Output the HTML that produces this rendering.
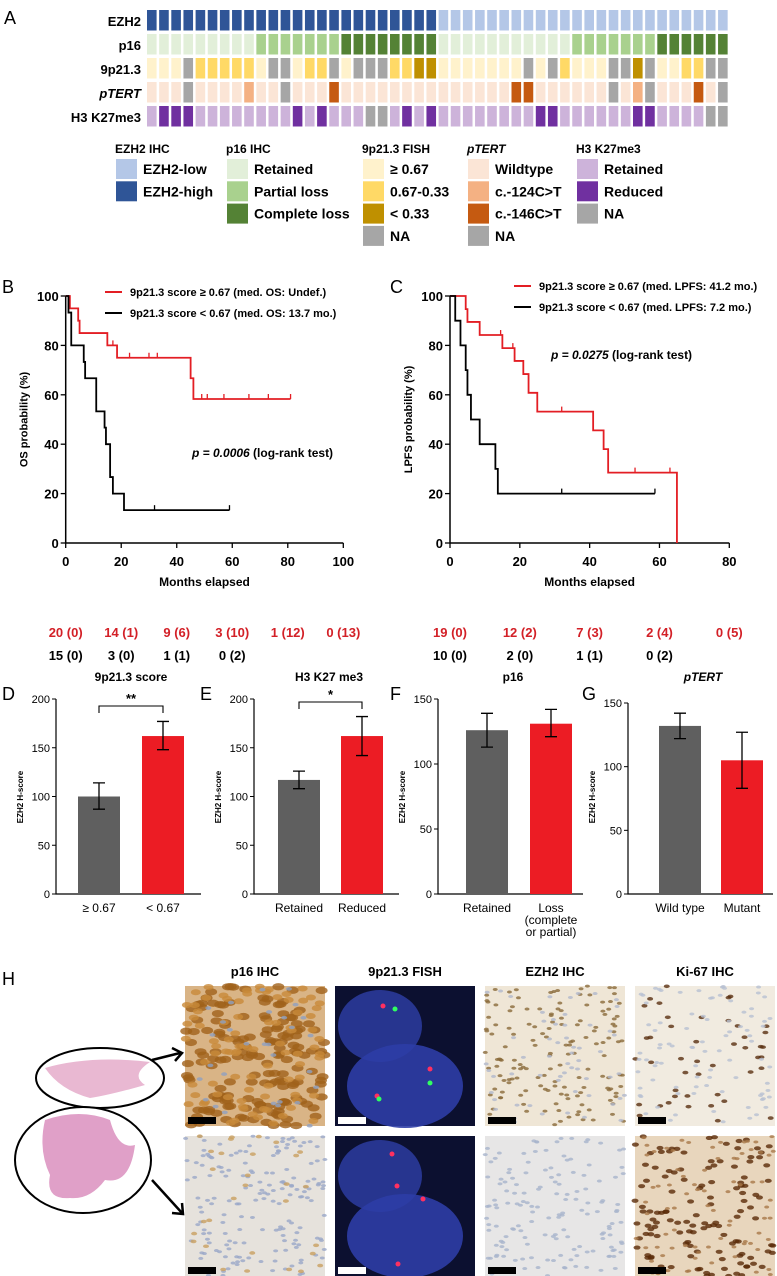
<!DOCTYPE html>
<html><head><meta charset="utf-8">
<style>
html,body{margin:0;padding:0;background:#fff;}
svg{display:block;font-family:"Liberation Sans",Arial,sans-serif;}
.b{font-weight:bold;}
</style></head>
<body>
<svg id="fig" width="777" height="1276" viewBox="0 0 777 1276" xmlns="http://www.w3.org/2000/svg">
<!-- Panel A -->
<text x="4" y="24" font-size="18">A</text>
<g font-size="13" class="b" text-anchor="end">
<text x="141" y="26">EZH2</text>
<text x="141" y="50">p16</text>
<text x="141" y="74">9p21.3</text>
<text x="141" y="98" font-style="italic">pTERT</text>
<text x="141" y="122">H3 K27me3</text>
</g>
<g id="heat"></g>
<g id="legendA" font-size="13" class="b"></g>

<!-- Panel B/C -->
<text x="2" y="293" font-size="18">B</text>
<text x="390" y="293" font-size="18">C</text>
<g id="kmB"></g>
<g id="kmC"></g>

<!-- Panels D-G -->
<text x="2" y="700" font-size="18">D</text>
<text x="200" y="700" font-size="18">E</text>
<text x="390" y="700" font-size="18">F</text>
<text x="582" y="700" font-size="18">G</text>
<g id="bars"></g>

<!-- Panel H -->
<text x="2" y="985" font-size="18">H</text>
<g font-size="13" class="b" text-anchor="middle">
<text x="255" y="976">p16 IHC</text>
<text x="405" y="976">9p21.3 FISH</text>
<text x="555" y="976">EZH2 IHC</text>
<text x="705" y="976">Ki-67 IHC</text>
</g>
<g id="micro"></g>
</svg>
<script>
// ---------- Panel A data ----------
const ezh2Row = [1,1,1,1,1,1,1,1,1,1,1,1,1,1,1,1,1,1,1,1,1,1,1,1, 0,0,0,0,0,0,0,0,0,0,0,0,0,0,0,0,0,0,0,0,0,0,0,0];
const p16Row  = [0,0,0,0,0,0,0,0,0,1,1,1,1,1,1,1,2,2,2,2,2,2,2,2, 0,0,0,0,0,0,0,0,0,0,0,1,1,1,1,1,1,1,2,2,2,2,2,2];
const fishRow = [0,0,0,3,1,1,1,1,1,0,3,3,0,1,1,3,0,3,3,3,1,1,2,2, 0,0,0,0,0,0,0,3,0,3,1,0,0,0,3,3,2,3,0,0,1,1,3,3];
const tertRow = [0,0,0,3,0,0,0,0,1,0,0,3,0,0,0,2,0,0,0,0,0,0,0,0, 0,0,0,0,0,0,2,2,0,0,0,0,0,0,3,0,1,3,0,0,0,2,0,3];
const h3Row   = [0,1,1,1,0,0,0,0,0,0,0,0,1,0,1,0,0,0,2,2,0,1,0,1, 0,0,0,0,0,0,0,0,1,1,0,0,0,0,0,0,1,1,0,0,0,0,2,2];
const ezh2Cols = ['#b4c7e7','#2f5597'];
const p16Cols  = ['#e2efd9','#a9d18e','#548235'];
const fishCols = ['#fff2cc','#ffd966','#bf9000','#a6a6a6'];
const tertCols = ['#fbe5d6','#f4b183','#c55a11','#a6a6a6'];
const h3Cols   = ['#cdb3da','#7030a0','#a6a6a6'];

// ---------- KM data ----------
const osRedT = [0,1.5,4.5,5,15,18.5,45,46];
const osRedS = [100,95,90,85,80,75,66.7,58.3];
const osRedCens = [17,23,30,33,49,51,57,66,73,81];
const osRedEnd = 81;
const osBlkT = [0,1,2,6.5,7,11,14,14.5,16,17,21];
const osBlkS = [100,93.3,80,73.3,66.7,53.3,46.7,40,26.7,20,13.3];
const osBlkCens = [32,59];
const osBlkEnd = 59;
const lpRedT = [0,4.5,5,8.5,15,18.5,21,22.5,25,41,44,45.3,65];
const lpRedS = [100,94.7,89.5,84.2,78.9,73.7,68.4,60.8,53.2,45.6,38,28.5,0];
const lpRedCens = [14.5,18,32,53,63];
const lpRedEnd = 65;
const lpBlkT = [0,1.5,3,4.5,5,6,8.5,13,13.7];
const lpBlkS = [100,90,80,70,60,50,40,30,20];
const lpBlkCens = [32,58.7];
const lpBlkEnd = 58.7;
const osXTicks = [0,20,40,60,80,100];
const lpXTicks = [0,20,40,60,80];
const kmYTicks = [0,20,40,60,80,100];
const osRiskRed = ['20 (0)','14 (1)','9 (6)','3 (10)','1 (12)','0 (13)'];
const osRiskBlk = ['15 (0)','3 (0)','1 (1)','0 (2)'];
const lpRiskRed = ['19 (0)','12 (2)','7 (3)','2 (4)','0 (5)'];
const lpRiskBlk = ['10 (0)','2 (0)','1 (1)','0 (2)'];

// ---------- Bar data ----------
const dCats = ['≥ 0.67','< 0.67'];
const dVals = [100,162];
const dLo = [87,148];
const dHi = [114,177];
const eCats = ['Retained','Reduced'];
const eVals = [117,162];
const eLo = [108,142];
const eHi = [126,182];
const fCats = ['Retained','Loss'];
const fVals = [126,131];
const fLo = [113,121];
const fHi = [139,142];
const gCats = ['Wild type','Mutant'];
const gVals = [132,105];
const gLo = [122,83];
const gHi = [142,127];
const ticks200 = [0,50,100,150,200];
const ticks150 = [0,50,100,150];

const NS='http://www.w3.org/2000/svg';
function mk(parent, tag, attrs, txt){
  const el=document.createElementNS(NS,tag);
  for(const k in attrs) el.setAttribute(k,attrs[k]);
  if(txt!==undefined) el.textContent=txt;
  parent.appendChild(el);
  return el;
}

// ---------- Heatmap ----------
(function(){
  const g=document.getElementById('heat');
  const rows=[[ezh2Row,ezh2Cols,'ezh2'],[p16Row,p16Cols,'p16'],[fishRow,fishCols,'9p21'],[tertRow,tertCols,'ptert'],[h3Row,h3Cols,'h3k27me3']];
  const x0=147, pitch=12.15, w=9.6, y0=10, rp=24, h=20.5;
  rows.forEach((r,ri)=>{
    r[0].forEach((v,ci)=>{
      const el=mk(g,'rect',{x:x0+ci*pitch,y:y0+ri*rp,width:w,height:h,fill:r[1][v]});
      
      
    });
  });
  const L=document.getElementById('legendA');
  const groups=[
    [115,'EZH2 IHC',false,[['#b4c7e7','EZH2-low'],['#2f5597','EZH2-high']]],
    [226,'p16 IHC',false,[['#e2efd9','Retained'],['#a9d18e','Partial loss'],['#548235','Complete loss']]],
    [362,'9p21.3 FISH',false,[['#fff2cc','≥ 0.67'],['#ffd966','0.67-0.33'],['#bf9000','< 0.33'],['#a6a6a6','NA']]],
    [467,'pTERT',true,[['#fbe5d6','Wildtype'],['#f4b183','c.-124C>T'],['#c55a11','c.-146C>T'],['#a6a6a6','NA']]],
    [576,'H3 K27me3',false,[['#cdb3da','Retained'],['#7030a0','Reduced'],['#a6a6a6','NA']]]
  ];
  groups.forEach(gr=>{
    const t=mk(L,'text',{x:gr[0],y:153,'font-size':12},gr[1]);
    if(gr[2]) t.setAttribute('font-style','italic');
    
    
    gr[3].forEach((it,i)=>{
      const cy=169+i*22.3;
      const r=mk(L,'rect',{x:gr[0]+1,y:cy-10,width:21,height:20,fill:it[0]});
      
      
      const tx=mk(L,'text',{x:gr[0]+28,y:cy+5,'font-size':14},it[1]);
      
      
    });
  });
})();

// ---------- KM plots ----------
function km(gid, x0, x1, xmax, xticks, series, yTitle, legend, pPos, risks, riskX){
  const g=document.getElementById(gid);
  const y0=543, y1=296;
  const X=t=>x0+t/xmax*(x1-x0);
  const Y=s=>y0-s/100*(y0-y1);
  const ax=mk(g,'path',{d:`M${x0} ${y1} V${y0} H${x1}`,stroke:'#000','stroke-width':1.5,fill:'none'});
  
  
  kmYTicks.forEach(v=>{
    const tk=mk(g,'line',{x1:x0-5,x2:x0,y1:Y(v),y2:Y(v),stroke:'#000','stroke-width':1.3});
    
    
    const tl=mk(g,'text',{x:x0-7,y:Y(v)+5,'text-anchor':'end','font-size':13,'font-weight':'bold'},v);
    
    
  });
  xticks.forEach(v=>{
    const tk=mk(g,'line',{x1:X(v),x2:X(v),y1:y0,y2:y0+5,stroke:'#000','stroke-width':1.3});
    
    
    const tl=mk(g,'text',{x:X(v),y:y0+23,'text-anchor':'middle','font-size':13,'font-weight':'bold'},v);
    
    
  });
  const xt=mk(g,'text',{x:(x0+x1)/2,y:586,'text-anchor':'middle','font-size':12,'font-weight':'bold'},'Months elapsed');
  
  
  const yc=(y0+y1)/2, yx=x0-38;
  const yt=mk(g,'text',{x:yx,y:yc,'text-anchor':'middle','font-size':11,'font-weight':'bold',transform:`rotate(-90 ${yx} ${yc})`},yTitle);
  
  
  series.forEach(s=>{
    const [T,S,cens,end,col]=s;
    let d=`M${X(T[0])} ${Y(S[0])}`;
    for(let i=1;i<T.length;i++) d+=` H${X(T[i])} V${Y(S[i])}`;
    if(S[S.length-1]>0) d+=` H${X(end)}`;
    const p=mk(g,'path',{d:d,stroke:col,'stroke-width':1.8,fill:'none'});
    
    
    cens.forEach(c=>{
      let sv=S[0];
      for(let i=0;i<T.length;i++) if(T[i]<=c) sv=S[i];
      const cl=mk(g,'line',{x1:X(c),x2:X(c),y1:Y(sv)-5,y2:Y(sv),stroke:col,'stroke-width':1.3});
      
      
    });
  });
  legend.forEach((l,i)=>{
    const ly=[ legend[0][2], legend[0][2]+21 ][i];
    const ll=mk(g,'line',{x1:l[3],x2:l[3]+17,y1:ly,y2:ly,stroke:l[1],'stroke-width':2});
    
    
    const lt=mk(g,'text',{x:l[3]+25,y:ly+4,'font-size':11,'font-weight':'bold'},l[0]);
    
    
  });
  const pt=mk(g,'text',{x:pPos[0],y:pPos[1],'font-size':12,'font-weight':'bold'});
  
  
  const ts=mk(pt,'tspan',{'font-style':'italic'},pPos[2]);
  mk(pt,'tspan',{},' (log-rank test)');
  risks.forEach((r,ri)=>{
    r[0].forEach((v,i)=>{
      const rt=mk(g,'text',{x:X(riskX[i]),y:ri?660:637,'text-anchor':'middle','font-size':13,'font-weight':'bold',fill:r[1]},v);
      
      
    });
  });
}
km('kmB',65.7,343.3,100,osXTicks,
  [[osRedT,osRedS,osRedCens,osRedEnd,'#e31e24'],[osBlkT,osBlkS,osBlkCens,osBlkEnd,'#000']],
  'OS probability (%)',
  [['9p21.3 score ≥ 0.67 (med. OS: Undef.)','#e31e24',292,105],['9p21.3 score < 0.67 (med. OS: 13.7 mo.)','#000',292,105]],
  [192,457,'p = 0.0006'],[[osRiskRed,'#d32027'],[osRiskBlk,'#000']],[0,20,40,60,80,100]);
km('kmC',450,729.3,80,lpXTicks,
  [[lpRedT,lpRedS,lpRedCens,lpRedEnd,'#e31e24'],[lpBlkT,lpBlkS,lpBlkCens,lpBlkEnd,'#000']],
  'LPFS probability (%)',
  [['9p21.3 score ≥ 0.67 (med. LPFS: 41.2 mo.)','#e31e24',286,514],['9p21.3 score < 0.67 (med. LPFS: 7.2 mo.)','#000',286,514]],
  [551,359,'p = 0.0275'],[[lpRiskRed,'#d32027'],[lpRiskBlk,'#000']],[0,20,40,60,80]);

// ---------- Bars ----------
function barChart(ax, top, ymax, ticks, cats, vals, lo, hi, title, italic, bx, sig){
  const g=document.getElementById('bars');
  const y0=894;
  const Y=v=>y0-v/ymax*(y0-top);
  const a=mk(g,'path',{d:`M${ax} ${Y(ymax)} V${y0} H${ax+145}`,stroke:'#000','stroke-width':1.2,fill:'none'});
  
  
  ticks.forEach(v=>{
    const tk=mk(g,'line',{x1:ax-4,x2:ax,y1:Y(v),y2:Y(v),stroke:'#000','stroke-width':1});
    
    
    const tl=mk(g,'text',{x:ax-6,y:Y(v)+4,'text-anchor':'end','font-size':11},v);
    
    
  });
  const yc=797, yx=ax-33;
  const yt=mk(g,'text',{x:yx,y:yc,'text-anchor':'middle','font-size':8,'font-weight':'bold',transform:`rotate(-90 ${yx} ${yc})`},'EZH2 H-score');
  
  
  const tt=mk(g,'text',{x:ax+75,y:681,'text-anchor':'middle','font-size':12,'font-weight':'bold'},title);
  if(italic) tt.setAttribute('font-style','italic');
  
  
  const cols=['#5f5f5f','#ec1c24'];
  cats.forEach((c,i)=>{
    const x=ax+bx[i];
    const r=mk(g,'rect',{x:x,y:Y(vals[i]),width:42,height:y0-Y(vals[i]),fill:cols[i]});
    
    
    const eb=mk(g,'path',{d:`M${x+21} ${Y(lo[i])} V${Y(hi[i])} M${x+15} ${Y(lo[i])} H${x+27} M${x+15} ${Y(hi[i])} H${x+27}`,stroke:'#000','stroke-width':1.3,fill:'none'});
    
    
    const cl=mk(g,'text',{x:x+21,y:912,'text-anchor':'middle','font-size':12},c);
    
    
  });
  if(sig){
    const xa=ax+bx[0]+21, xb=ax+bx[1]+21, by=sig[1];
    const br=mk(g,'path',{d:`M${xa} ${by+7} V${by} H${xb} V${by+7}`,stroke:'#000','stroke-width':1.1,fill:'none'});
    
    
    const st=mk(g,'text',{x:(xa+xb)/2,y:by-3,'text-anchor':'middle','font-size':13,'font-weight':'bold'},sig[0]);
    
    
  }
}
barChart(56,699,200,ticks200,dCats,dVals,dLo,dHi,'9p21.3 score',false,[22,86],['**',706]);
barChart(254,699,200,ticks200,eCats,eVals,eLo,eHi,'H3 K27 me3',false,[24,87],['*',702]);
barChart(438,699,150,ticks150,fCats,fVals,fLo,fHi,'p16',false,[28,92],null);
barChart(628,703,150,ticks150,gCats,gVals,gLo,gHi,'pTERT',true,[31,93],null);
(function(){
  const g=document.getElementById('bars');
  const a=mk(g,'text',{x:551,y:924,'text-anchor':'middle','font-size':12},'(complete');
  
  
  const b=mk(g,'text',{x:551,y:936,'text-anchor':'middle','font-size':12},'or partial)');
  
  
})();

// ---------- Microscopy (decorative textures) ----------
(function(){
  const g=document.getElementById('micro');
  let seed=12345;
  const rnd=()=>{seed=(seed*1103515245+12345)%2147483648;return seed/2147483648;};
  const panels=[
    [185,986,'#d9b486',[['#a0621a',170,6],['#c88a3a',90,5],['#8fa0c0',30,3]],'#000'],
    [335,986,'#0c1030',[],'#fff'],
    [485,986,'#efe6d6',[['#8a6a3a',150,2.5],['#b0b8cc',60,2.5]],'#000'],
    [635,986,'#f1ebe0',[['#5a3010',45,3],['#b8c0d2',90,2.5]],'#000'],
    [185,1136,'#e6e2dc',[['#9aa8c8',170,2.5],['#c9a060',30,3]],'#000'],
    [335,1136,'#0c1030',[],'#fff'],
    [485,1136,'#e7e6e6',[['#a8b4cc',150,2.5]],'#000'],
    [635,1136,'#e8d6bd',[['#5a2a08',130,3.5],['#a87848',80,2.5]],'#000']
  ];
  panels.forEach((p,pi)=>{
    const r=mk(g,'rect',{x:p[0],y:p[1],width:140,height:140,fill:p[2]});
    
    
    if(pi===1||pi===5){
      const b1=mk(g,'ellipse',{cx:p[0]+45,cy:p[1]+40,rx:42,ry:36,fill:'#2a3a9a',opacity:0.9});
      
      
      const b2=mk(g,'ellipse',{cx:p[0]+70,cy:p[1]+100,rx:58,ry:42,fill:'#2d3da6',opacity:0.9});
      
      
      const dots = pi===1 ? [[48,20,'#ff3060'],[60,23,'#30ff60'],[95,83,'#ff3060'],[95,97,'#30ff60'],[42,110,'#ff3060'],[44,113,'#30ff60']] : [[57,18,'#ff3060'],[62,50,'#ff3060'],[88,63,'#ff3060'],[63,128,'#ff3060']];
      dots.forEach(d=>{
        const c=mk(g,'circle',{cx:p[0]+d[0],cy:p[1]+d[1],r:2.5,fill:d[2]});
        
        
      });
    } else {
      p[3].forEach(s=>{
        for(let k=0;k<s[1];k++){
          const e=mk(g,'ellipse',{cx:p[0]+rnd()*140,cy:p[1]+rnd()*140,rx:s[2],ry:s[2]*0.6,fill:s[0],opacity:0.8,transform:''});
          
          
        }
      });
    }
    const sb=mk(g,'rect',{x:p[0]+3,y:p[1]+131,width:28,height:7,fill:p[4]});
    
    
  });
  // whole slide ellipses
  const e1=mk(g,'ellipse',{cx:100,cy:1078,rx:64,ry:30,fill:'#fff',stroke:'#000','stroke-width':2});
  
  
  const t1=mk(g,'path',{d:'M45 1068 Q90 1055 150 1062 Q130 1075 145 1085 Q110 1095 90 1098 Q60 1090 45 1068Z',fill:'#e9b8d2'});
  
  
  const e2=mk(g,'ellipse',{cx:83,cy:1160,rx:68,ry:53,fill:'#fff',stroke:'#000','stroke-width':2});
  
  
  const t2=mk(g,'path',{d:'M45 1120 Q80 1108 110 1120 Q118 1150 135 1145 Q130 1185 105 1180 Q90 1200 70 1198 Q45 1200 50 1175 Q38 1150 45 1120Z',fill:'#e0a0c8'});
  
  
  const a1=mk(g,'path',{d:'M152 1060 L180 1053 M172 1048 L182 1053 L175 1061',stroke:'#000','stroke-width':2.5,fill:'none'});
  
  
  const a2=mk(g,'path',{d:'M152 1180 L182 1213 M172 1213 L183 1214 L182 1203',stroke:'#000','stroke-width':2.5,fill:'none'});
  
  
})();
</script>
</body></html>
